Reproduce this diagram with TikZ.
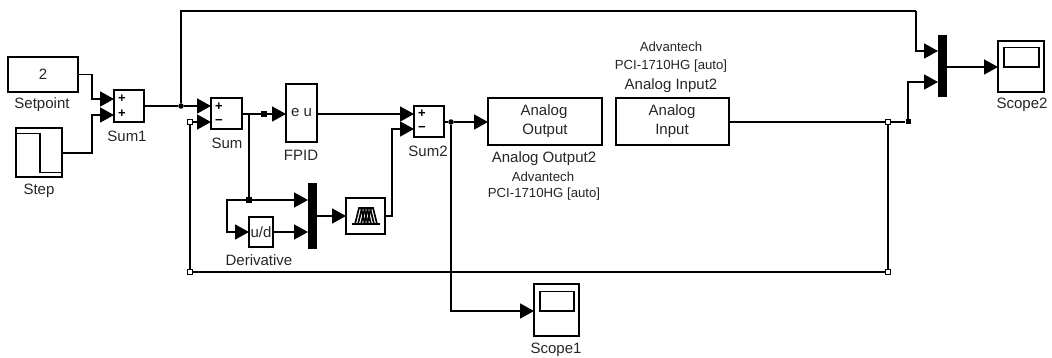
\documentclass[tikz,border=0pt]{standalone}
\usepackage{fontspec}
\setmainfont{Liberation Sans}
\usetikzlibrary{arrows.meta}
\tikzset{
  blk/.style={draw=black,line width=1.8pt,fill=white,inner sep=0pt,outer sep=0pt},
  mux/.style={fill=black,draw=none,inner sep=0pt,outer sep=0pt},
  lbl/.style={font=\fontsize{15}{15}\selectfont,inner sep=0pt,text=black!85},
  sml/.style={font=\fontsize{13.2}{13}\selectfont,inner sep=0pt,text=black!85},
  sgn/.style={font=\bfseries\fontsize{13}{13}\selectfont,inner sep=0pt},
  wire/.style={line width=1.8pt},
  arr/.style={line width=1.8pt,-{Triangle[length=14pt,width=15pt]}},
  dot/.style={circle,fill=black,minimum size=5.5pt,inner sep=0pt},
  sqdot/.style={rectangle,fill=black,minimum size=6pt,inner sep=0pt},
  wsq/.style={rectangle,draw=black,fill=white,line width=1.2pt,minimum size=5pt,inner sep=0pt},
  pt/.style={inner sep=0pt,outer sep=0pt}
}
\newcommand{\blockbox}[6][]{\node[blk,minimum width=#4pt,minimum height=#5pt,#1] (#2) at (#3) {#6};}
\begin{document}
\begin{tikzpicture}[x=1pt,y=-1pt]
\useasboundingbox (0,0) rectangle (1052,358);
% blocks
\blockbox[lbl]{setpoint}{43,74.5}{70}{35}{2}
\blockbox{step}{39,152.5}{46}{49}{}
\blockbox{sumone}{129,106}{30}{32}{}
\blockbox{sum}{226.5,113.5}{31}{31}{}
\blockbox[lbl]{fpid}{301.5,113}{31}{58}{e u}
\blockbox{sumtwo}{429,121.5}{30}{31}{}
\blockbox[lbl]{deriv}{261,232}{24}{30}{}
\blockbox{fis}{365.5,216}{39}{36}{}
\blockbox[lbl,align=center]{aout}{545,121.5}{114}{47}{}
\blockbox[lbl,align=center]{ain}{672.5,121.5}{113}{47}{}
\blockbox{scopetwo}{1021,66.5}{46}{51}{}
\blockbox{scopeone}{556.5,310}{45}{52}{}
\node[mux,minimum width=9pt,minimum height=66pt] (muxone) at (312.5,216) {};
\node[mux,minimum width=9pt,minimum height=62pt] (muxtwo) at (942.5,66) {};
% block contents
\node[lbl] (aoutA) at (544,112) {Analog};
\node[lbl] (aoutB) at (545,131) {Output};
\node[lbl] (ainA) at (672,112) {Analog};
\node[lbl] (ainB) at (672,131) {Input};
\node[lbl] (ud) at (261,232) {u/d};
\node[sgn] (s1a) at (122,99) {+};
\node[sgn] (s1b) at (122,114) {+};
\node[sgn] (s2a) at (219,107) {+};
\node[sgn] (s2b) at (219,122) {\textminus};
\node[sgn] (s3a) at (422,114) {+};
\node[sgn] (s3b) at (422,129) {\textminus};
% icons
\draw[line width=1.2pt] (17,133.5) -- (40,133.5) -- (40,172.5) -- (61,172.5);
\draw[line width=1.6pt,fill=white] (1004,47.5) rectangle (1039,67);
\draw[line width=1.6pt,fill=white] (540,291.5) rectangle (574,311);
\draw[line width=1.8pt] (352,224) -- (380,224);
\foreach \c in {0,3,6,9,12}{
  \draw[line width=1.7pt] (355+\c,224) -- (359+\c,208) -- (361+\c,208) -- (365+\c,224);
}
% labels
\node[lbl] (t1) at (42,105) {Setpoint};
\node[lbl] (t2) at (39,191) {Step};
\node[lbl] (t3) at (127,136) {Sum1};
\node[lbl] (t4) at (227,143) {Sum};
\node[lbl] (t5) at (301,155) {FPID};
\node[lbl] (t6) at (428,151) {Sum2};
\node[lbl] (t7) at (259,260) {Derivative};
\node[lbl] (t8) at (544,159) {Analog Output2};
\node[sml] (t9) at (543,177) {Advantech};
\node[sml] (t10) at (544,194) {PCI-1710HG [auto]};
\node[sml] (t11) at (671,47) {Advantech};
\node[sml] (t12) at (671,66) {PCI-1710HG [auto]};
\node[lbl] (t13) at (671,86) {Analog Input2};
\node[lbl] (t14) at (1022,105) {Scope2};
\node[lbl] (t15) at (556,350) {Scope1};
% ports and corners
\coordinate (a1) at (114,99);
\coordinate (a2) at (114,115);
\coordinate (a3) at (211,107);
\coordinate (a4) at (211,122);
\coordinate (a5) at (414,114);
\coordinate (a6) at (414,129);
\coordinate (a7) at (308,200);
\coordinate (a8) at (308,232);
\coordinate (a9) at (938,51);
\coordinate (a10) at (938,82);
\coordinate (top) at (181,11);
\coordinate (topr) at (916,11);
% junctions
\node[dot] (j1) at (181,106) {};
\node[sqdot] (j2) at (264,114) {};
\node[sqdot,minimum size=5.5pt] (j3) at (249,200) {};
\node[dot] (j4) at (451,122) {};
\node[sqdot,minimum size=5pt] (j5) at (908,122) {};
\coordinate (j6) at (249,114);
% wires
\draw[arr] (setpoint.east) -- (92,74.5) -- (92,99) -- (a1);
\draw[arr] (step.east |- 0,153) -- (92,153) -- (92,115) -- (a2);
\draw[wire] (sumone.east) -- (j1);
\draw[arr] (j1) -- (a3 |- j1);
\draw[wire] (j1) -- (top) -- (topr);
\draw[arr] (topr) -- (916,51) -- (a9);
\draw[wire] (sum.east |- j6) -- (j2);
\draw[arr] (j2) -- (fpid.west |- j2);
\draw[wire] (j6) -- (j3);
\draw[arr] (j3) -- (a7);
\draw[arr] (j3) -- (227,200) -- (227,232) -- (deriv.west);
\draw[arr] (deriv.east) -- (a8);
\draw[arr] (muxone.east) -- (fis.west);
\draw[arr] (fis.east) -- (392,216) -- (392,129) -- (a6);
\draw[arr] (fpid.east |- a5) -- (a5);
\draw[wire] (sumtwo.east |- j4) -- (j4);
\draw[arr] (j4) -- (aout.west |- j4);
\draw[arr] (j4) -- (451,311) -- (scopeone.west |- 0,311);
\draw[wire] (ain.east |- j5) -- (j5);
\draw[arr] (j5) -- (908,82) -- (a10);
\draw[arr] (muxtwo.east |- 0,67) -- (scopetwo.west |- 0,67);
\node[wsq] (w1) at (888,122) {};
\node[wsq] (w2) at (888,272) {};
\node[wsq] (w3) at (190,272) {};
\node[wsq] (w4) at (190,122) {};
\draw[wire] (w1) -- (w2) -- (w3) -- (w4);
\draw[arr] (w4) -- (a4);
\foreach \n in {w1,w2,w3,w4}{\node[wsq] at (\n) {};}
\end{tikzpicture}
\end{document}
